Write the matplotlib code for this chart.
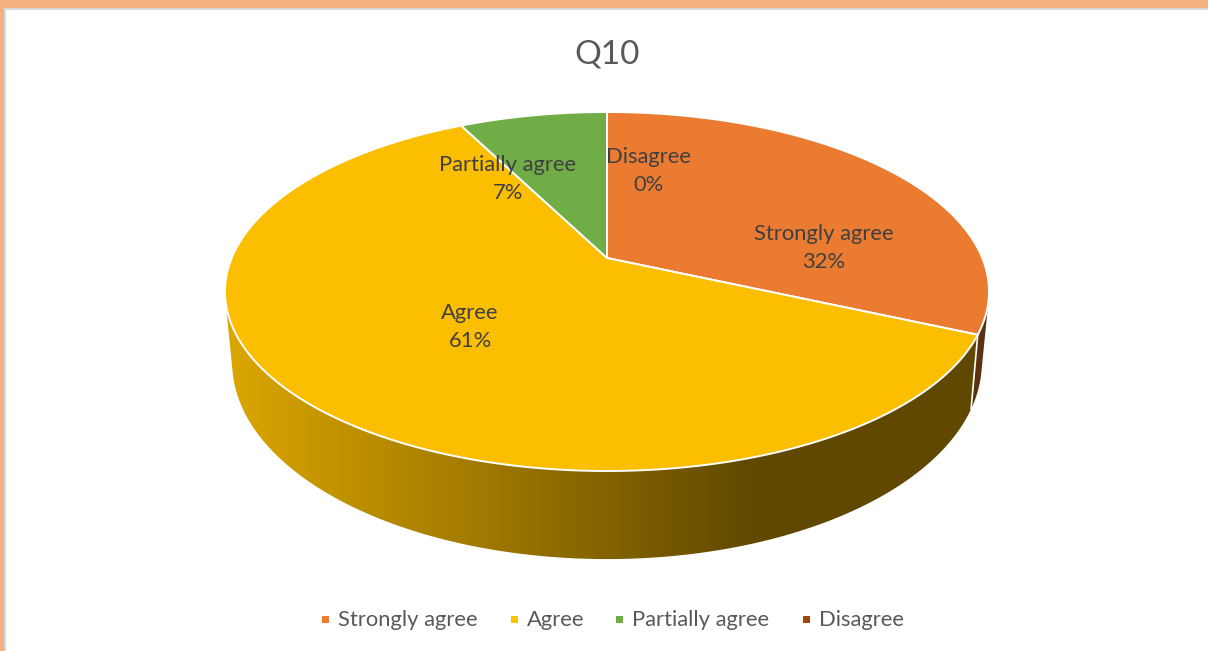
import matplotlib
matplotlib.use("Agg")
import matplotlib.pyplot as plt
import numpy as np
from matplotlib.patches import Polygon, Rectangle

plt.rcParams["font.family"] = ["Lato", "DejaVu Sans"]

title = "Q10"
categories = ["Strongly agree", "Agree", "Partially agree", "Disagree"]
shares = [31.71, 60.8, 7.49, 0.0]
top_colors = ["#EB7B31", "#FBBE00", "#70AD47", "#9E480E"]
legend_colors = ["#ED7D31", "#FFC000", "#70AD47", "#9E480E"]

# where Excel put the data labels and legend entries, in pixels
label_pos = [(824, 248), (470, 327), (508, 179), (648, 171)]
legend_x = [326, 515, 620, 807]

CX = 607
TOP = dict(y0=258, a=375.3, b=173.25, k=0.1866)
BOTTOM = dict(y0=325, a=368.0, b=189.6, k=0.19)


def rim(deg, y0, a, b, k):
    # perspective view of the unit circle, clockwise from 12 o'clock
    t = np.radians(deg)
    u, v = np.sin(t), np.cos(t)
    w = 1 + k * v
    return CX + a * u / w, y0 - b * v / w


def half_hull(points):
    out = []
    for p in points:
        while len(out) > 1 and np.cross(np.subtract(out[-1], out[-2]), np.subtract(p, out[-1])) <= 0:
            out.pop()
        out.append(p)
    return out[:-1]


def wall_outline(start, end):
    # convex hull of both rims, the part that faces away sits under the top
    ts = np.linspace(start, end, 200)
    xt, yt = rim(ts, **TOP)
    xb, yb = rim(ts, **BOTTOM)
    pts = sorted(zip(np.r_[xt, xb], np.r_[yt, yb]))
    return np.array(half_hull(pts) + half_hull(pts[::-1]))


fig = plt.figure(figsize=(12.08, 6.51), dpi=100)
ax = fig.add_axes([0, 0, 1, 1])
ax.axis("off")

# page border behind the chart
ax.add_patch(Rectangle((0, 0), 1208, 8, fc="#F6B183", ec="none", zorder=0))
ax.add_patch(Rectangle((0, 0), 4, 651, fc="#F6B183", ec="none", zorder=0))
ax.add_patch(Rectangle((4, 8), 1204, 2, fc="#D9D9D9", ec="none", zorder=0))
ax.add_patch(Rectangle((4, 8), 2, 643, fc="#D9D9D9", ec="none", zorder=0))

edges = np.cumsum([0] + shares) * 3.6

# side walls first, the top covers whatever faces away
ax.add_patch(Polygon(wall_outline(60, edges[1]), closed=True, fc="#5C3110", ec="none", zorder=2))

# the yellow wall darkens to the right, then stays flat
px = np.arange(1208)
f = np.clip((px - 235) / (755 - 235), 0, 1)[:, None]
ramp = (np.array([0xDA, 0xA5, 0x00]) * (1 - f) + np.array([0x60, 0x48, 0x00]) * f) / 255
im = ax.imshow(ramp[None, :, :], extent=(0, 1208, 651, 0), aspect="auto", zorder=2.5)
clip = Polygon(wall_outline(edges[1], 285), closed=True, transform=ax.transData)
im.set_clip_path(clip)

xt, yt = rim(edges[1], **TOP)
xb, yb = rim(edges[1], **BOTTOM)
ax.plot([xt, xb], [yt, yb], color="white", lw=1.2, zorder=3)

# top face
for i, share in enumerate(shares):
    if share == 0:
        continue
    ts = np.linspace(edges[i], edges[i + 1], 240)
    x, y = rim(ts, **TOP)
    pts = np.column_stack([np.r_[CX, x], np.r_[TOP["y0"], y]])
    ax.add_patch(Polygon(pts, closed=True, fc=top_colors[i], ec="white", lw=1.4, zorder=4))

for name, share, (lx, ly) in zip(categories, shares, label_pos):
    ax.text(lx, ly, f"{name}\n{round(share)}%", ha="center", va="center", fontsize=15.8,
            color="#404040", linespacing=1.45, zorder=5)

ax.text(607, 55, title, ha="center", va="center", fontsize=24, color="#595959")

for name, color, lx in zip(categories, legend_colors, legend_x):
    ax.add_patch(Rectangle((lx - 4, 616), 7, 7, fc=color, ec="none"))
    ax.text(lx + 12, 620.5, name, ha="left", va="center", fontsize=15.8, color="#595959")

ax.set_xlim(0, 1208)
ax.set_ylim(651, 0)
fig.savefig("out.png", dpi=100)
